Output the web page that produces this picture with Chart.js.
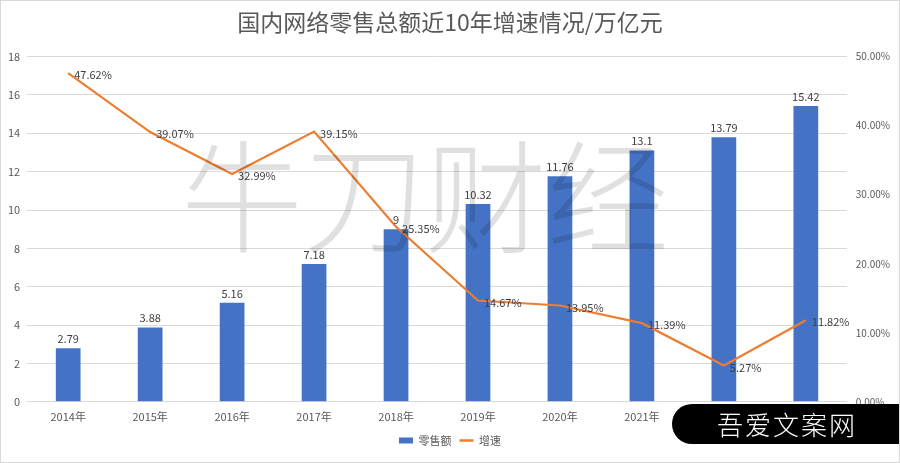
<!DOCTYPE html>
<html>
<head>
<meta charset="utf-8">
<script src="https://cdn.jsdelivr.net/npm/chart.js@4"></script>
<style>
  html, body { margin: 0; padding: 0; background: #fff; }
  #wrap { position: relative; width: 898px; height: 461px; border: 1px solid #d9d9d9; overflow: hidden; }
  #stamp {
    position: absolute; left: 671px; top: 403px; width: 230px; height: 40px;
    background: #000; border-radius: 20px 0 0 20px; color: #fff;
    font-family: "Noto Sans CJK SC", sans-serif; font-weight: 300; font-size: 26px;
    line-height: 40px; text-align: center; letter-spacing: 2px;
  }
</style>
</head>
<body>
<div id="wrap">
  <canvas id="chart" width="898" height="461"></canvas>
  <div id="stamp">吾爱文案网</div>
</div>
<script>
const years = ["2014年", "2015年", "2016年", "2017年", "2018年", "2019年", "2020年", "2021年", "2022年", "2023年"];
const sales = [2.79, 3.88, 5.16, 7.18, 9, 10.32, 11.76, 13.1, 13.79, 15.42];
const growth = [47.62, 39.07, 32.99, 39.15, 25.35, 14.67, 13.95, 11.39, 5.27, 11.82];

const FONT = '"Noto Sans CJK SC", "Noto Sans", sans-serif';

// 数据标签 + 水印
const labelsPlugin = {
  id: "labels",
  afterDatasetsDraw(chart) {
    const ctx = chart.ctx;
    ctx.save();
    ctx.font = "11px " + FONT;
    ctx.fillStyle = "#404040";
    chart.getDatasetMeta(0).data.forEach((bar, i) => {
      ctx.textAlign = "center";
      ctx.textBaseline = "bottom";
      ctx.fillText(String(sales[i]), bar.x, bar.y - 4);
    });
    chart.getDatasetMeta(1).data.forEach((pt, i) => {
      ctx.textAlign = "left";
      ctx.textBaseline = "middle";
      ctx.fillText(growth[i].toFixed(2) + "%", pt.x + 6, pt.y + 2);
    });
    // 水印
    ctx.font = "300 122px " + FONT;
    ctx.fillStyle = "rgba(0,0,0,0.12)";
    ctx.textAlign = "center";
    ctx.textBaseline = "middle";
    ctx.fillText("牛刀财经", 424, 196);
    ctx.restore();
  }
};

new Chart(document.getElementById("chart"), {
  data: {
    labels: years,
    datasets: [
      {
        type: "bar",
        label: "零售额",
        data: sales,
        backgroundColor: "#4472C4",
        barPercentage: 0.58,
        categoryPercentage: 0.52,
        yAxisID: "y",
        order: 2
      },
      {
        type: "line",
        label: "增速",
        data: growth,
        borderColor: "#ED7D31",
        backgroundColor: "#ED7D31",
        borderWidth: 2.2,
        pointRadius: 0,
        tension: 0,
        yAxisID: "y1",
        order: 1
      }
    ]
  },
  options: {
    responsive: false,
    animation: false,
    layout: { padding: { left: 0, right: 0, top: 3, bottom: 6 } },
    plugins: {
      title: {
        display: true,
        text: "国内网络零售总额近10年增速情况/万亿元",
        color: "#595959",
        font: { family: FONT, size: 23, weight: "normal" },
        padding: { top: 4, bottom: 21 }
      },
      legend: {
        position: "bottom",
        labels: {
          color: "#595959",
          font: { family: FONT, size: 11 },
          usePointStyle: true,
          pointStyleWidth: 14,
          boxWidth: 14,
          boxHeight: 6,
          padding: 8,
          generateLabels(chart) {
            const items = Chart.defaults.plugins.legend.labels.generateLabels(chart);
            items.sort((a, b) => a.datasetIndex - b.datasetIndex);
            items.forEach(it => {
              const isBar = it.datasetIndex === 0;
              it.pointStyle = isBar ? "rect" : "line";
              it.fillStyle = isBar ? "#4472C4" : "#ED7D31";
              it.strokeStyle = isBar ? "#4472C4" : "#ED7D31";
              it.lineWidth = isBar ? 0 : 2.5;
            });
            return items;
          }
        }
      },
      tooltip: { enabled: false }
    },
    scales: {
      x: {
        grid: { display: false },
        border: { display: false },
        ticks: { color: "#595959", font: { family: FONT, size: 11 }, padding: 0 },
        afterFit(axis) { axis.height += 4; }
      },
      y: {
        position: "left",
        min: 0,
        max: 18,
        ticks: { stepSize: 2, color: "#595959", font: { family: FONT, size: 11 }, padding: 7 },
        grid: { color: "#d9d9d9", drawTicks: false },
        border: { display: false }
      },
      y1: {
        position: "right",
        min: 0,
        max: 50,
        ticks: {
          stepSize: 10,
          color: "#595959",
          font: { family: FONT, size: 10 },
          padding: 9,
          callback: v => v.toFixed(2) + "%"
        },
        grid: { display: false, drawTicks: false },
        border: { display: false }
      }
    }
  },
  plugins: [labelsPlugin]
});
</script>
</body>
</html>
